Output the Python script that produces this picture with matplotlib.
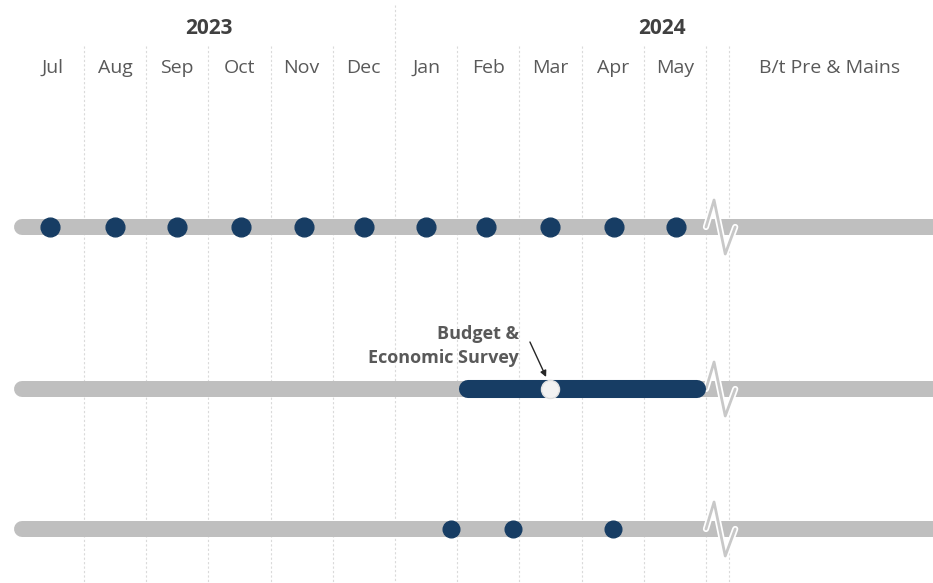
import matplotlib.pyplot as plt

# month columns, Jul 2023 .. May 2024 (x = column index)
months = ["Jul", "Aug", "Sep", "Oct", "Nov", "Dec", "Jan", "Feb", "Mar", "Apr", "May"]
years = ["2023", "2024"]
year_pos = [2.5, 9.8]
extra_label = "B/t Pre & Mains"

# events (in month units)
row1_events = [-0.05, 1.0, 2.0, 3.02, 4.03, 5.0, 6.0, 6.97, 8.0, 9.02, 10.02]
budget_span = [6.67, 10.35]
budget_point = 8.0
budget_label = "Budget &\nEconomic Survey"
row3_events = [6.4, 7.4, 9.0]

GREY = "#bfbfbf"
NAVY = "#173d64"
TXT = "#595959"

plt.rcParams["font.family"] = ["Open Sans", "DejaVu Sans"]

fig = plt.figure(figsize=(9.33, 5.83), dpi=100)
ax = fig.add_axes([0, 0, 1, 1])
ax.set_xlim(-0.85, 14.15)
ax.set_ylim(583, 0)
ax.axis("off")

# grid lines between columns
for b in [i + 0.5 for i in range(len(months))] + [10.87]:
    top = 5 if b == 5.5 else 46
    ax.plot([b, b], [top, 583], color="#dadada", lw=0.8, ls=(0, (2, 2)), zorder=0)

for i, m in enumerate(months):
    ax.text(i, 68, m, ha="center", va="center", fontsize=14, color=TXT)
ax.text(12.49, 68, extra_label, ha="center", va="center", fontsize=14, color=TXT)
for yr, p in zip(years, year_pos):
    ax.text(p, 28, yr, ha="center", va="center", fontsize=15, fontweight="bold",
            color="#404040")

rows = [227, 389, 529]
for r in rows:
    ax.plot([-0.5, 15], [r, r], color=GREY, lw=11.5, solid_capstyle="round", zorder=1)
    # axis break zigzag
    zx = [10.5, 10.63, 10.81, 10.97]
    zy = [r, r - 27, r + 27, r]
    ax.plot(zx, zy, color="white", lw=4.5, zorder=2, solid_capstyle="round")
    ax.plot(zx, zy, color="#c8c8c8", lw=2.0, zorder=3, solid_capstyle="round")

ax.plot(row1_events, [rows[0]] * len(row1_events), "o", ms=13.5, color=NAVY,
        mec=NAVY, zorder=4)

ax.plot(budget_span, [rows[1]] * 2, color=NAVY, lw=13, solid_capstyle="round", zorder=4)
ax.plot([budget_point], [rows[1]], "o", ms=13, color="#f2f2f2", mec="#e0e0e0",
        zorder=5)
ax.text(7.49, 346, budget_label, ha="right", va="center", fontsize=13,
        fontweight="bold", color=TXT, linespacing=1.45)
ax.annotate("", xy=(budget_point - 0.07, rows[1] - 12), xytext=(7.67, 342),
            arrowprops=dict(arrowstyle="-|>", color="#262626", lw=1.0,
                            shrinkA=0, shrinkB=0, mutation_scale=9),
            zorder=6)

ax.plot(row3_events, [rows[2]] * len(row3_events), "o", ms=12, color=NAVY,
        mec=NAVY, zorder=4)

fig.savefig("out.png", dpi=100)
